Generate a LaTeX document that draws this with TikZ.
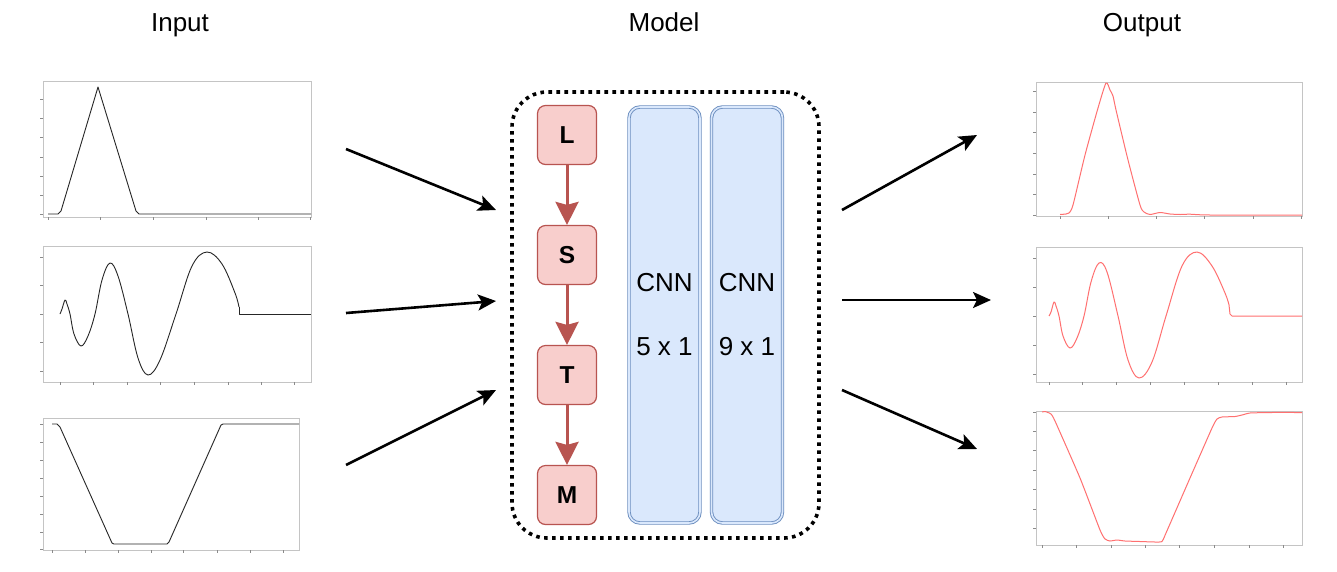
\documentclass[tikz,border=0pt]{standalone}
\usepackage{fontspec}
\setmainfont{Liberation Sans}
\usetikzlibrary{arrows.meta}
\definecolor{redfill}{HTML}{F8CECC}
\definecolor{redline}{HTML}{B85450}
\definecolor{bluefill}{HTML}{DAE8FC}
\definecolor{blueline}{HTML}{6C8EBF}
\definecolor{outred}{HTML}{FF7070}
\definecolor{framegray}{HTML}{C4C4C4}
\definecolor{tickgray}{HTML}{8A8A8A}
\begin{document}
\begin{tikzpicture}[x=1pt,y=-1pt,
  title/.style={font=\fontsize{26}{30}\selectfont, anchor=base, inner sep=0},
  letterbox/.style={draw=redline, fill=redfill, line width=1.2pt, rounded corners=8pt,
    minimum width=59pt, minimum height=59pt, inner sep=0,
    font=\fontsize{24.5}{28}\selectfont\bfseries},
  cnnbox/.style={draw=blueline, double=bluefill, double distance=1.6pt, line width=0.9pt,
    fill=bluefill, rounded corners=11pt, minimum width=71pt, minimum height=416pt, inner sep=0},
  cnntext/.style={font=\fontsize{26}{30}\selectfont, anchor=base, inner sep=0},
  modelbox/.style={draw=black, line width=3.6pt, dash pattern=on 3.6pt off 4.4pt,
    rounded corners=35pt, minimum width=307pt, minimum height=446pt, inner sep=0},
  lstmarrow/.style={draw=redline, line width=3pt,
    -{Stealth[length=23pt,width=23pt,inset=3pt,fill=redline]}},
  flowarrow/.style={draw=black, line width=2.6pt,
    -{Stealth[length=18pt,width=16pt,inset=4pt]}},
  plotframe/.style={draw=framegray, line width=1.1pt, anchor=north west, inner sep=0},
  tickmark/.style={draw=tickgray, line width=0.6pt},
  incurve/.style={draw=black!85, line width=0.9pt, line join=round},
  outcurve/.style={draw=outred, line width=1pt, line join=round}
]
\useasboundingbox[fill=white] (0,0) rectangle (1337,571);

% titles
\node[title] (tin) at (180,31.5) {Input};
\node[title] (tmodel) at (664,31.5) {Model};
\node[title] (tout) at (1142,31.5) {Output};

% ---------------- input plots ----------------
\node[plotframe, minimum width=268pt, minimum height=136pt] (in1) at (43,81) {};
\foreach \x in {48,100,153,206,258,310} \draw[tickmark] (\x,217) -- (\x,220);
\foreach \y in {99,118,137,157,176,195,214} \draw[tickmark] (43,\y) -- (40,\y);
\draw[incurve] (48,214) -- (58,214) -- (61,211) -- (98,87) -- (136,211) -- (139,214) -- (311,214);

\node[plotframe, minimum width=268pt, minimum height=136pt] (in2) at (43,246) {};
\foreach \x in {60,93,127,160,194,228,261,294} \draw[tickmark] (\x,382) -- (\x,385);
\foreach \y in {257,285,314,342,371} \draw[tickmark] (43,\y) -- (40,\y);
\draw[incurve] plot[smooth, tension=0.6] coordinates {(60,314) (62,309) (65,300) (67,304) (70,314) (74,334) (81,346) (88,336) (95,314) (102,280) (110,263) (118,276) (128,314) (138,358) (148,375) (160,360) (176,314) (192,266) (207,252) (222,264) (235,293) (239,307)};
\draw[incurve] (239,307) -- (239,314) -- (311,314);

\node[plotframe, minimum width=256pt, minimum height=132pt] (in3) at (43,418) {};
\foreach \x in {52,85,118,151,183,217,250,283} \draw[tickmark] (\x,550) -- (\x,553);
\foreach \y in {424,442,460,478,496,514,532,549} \draw[tickmark] (43,\y) -- (40,\y);
\draw[incurve] (52,424) -- (57,424) -- (60,427) -- (112,543) -- (114,544) -- (167,544) -- (169,542) -- (221,425) -- (223,424) -- (299,424);

% ---------------- output plots ----------------
\node[plotframe, minimum width=266pt, minimum height=134pt] (out1) at (1036,82) {};
\foreach \x in {1060,1108,1156,1204,1253,1301} \draw[tickmark] (\x,216) -- (\x,219);
\foreach \y in {91,112,132,153,174,194,215} \draw[tickmark] (1036,\y) -- (1033,\y);
\draw[outcurve] plot[smooth, tension=0.4] coordinates {(1060,214.5) (1066,214) (1069,213) (1073,205) (1085,155) (1098,108) (1106,83) (1110,90) (1113,96) (1116,110) (1128,160) (1140,205) (1144,212) (1150,214.5) (1160,212.5) (1170,214) (1180,214.5) (1190,214.2) (1210,215) (1302,215)};

\node[plotframe, minimum width=266pt, minimum height=135pt] (out2) at (1036,247) {};
\foreach \x in {1049,1082,1116,1150,1184,1218,1252,1286} \draw[tickmark] (\x,382) -- (\x,385);
\foreach \y in {258,287,316,345,374} \draw[tickmark] (1036,\y) -- (1033,\y);
\draw[outcurve] plot[smooth, tension=0.6] coordinates {(1049,316) (1051,312) (1054,302) (1056,306) (1059,316) (1063,336) (1070,348) (1077,338) (1084,316) (1091,282) (1099,263) (1107,272) (1118,316) (1128,360) (1139,378) (1152,362) (1166,316) (1182,266) (1197,252) (1212,266) (1225,293) (1229,305)};
\draw[outcurve] (1229,305) -- (1230,314) -- (1232,316) -- (1302,316);

\node[plotframe, minimum width=266pt, minimum height=134pt] (out3) at (1036,411) {};
\foreach \x in {1042,1076,1111,1145,1179,1214,1249,1283} \draw[tickmark] (\x,545) -- (\x,548);
\foreach \y in {412,431,450,470,489,509,528} \draw[tickmark] (1036,\y) -- (1033,\y);
\draw[outcurve] plot[smooth, tension=0.3] coordinates {(1042,412) (1045,411.5) (1048,412.5) (1051,414) (1055,421) (1080,478) (1100,530) (1105,539) (1110,541) (1117,540) (1125,541) (1140,541.5) (1155,542) (1162,541.5) (1166,533) (1190,478) (1212,428) (1217,419) (1222,417) (1235,416.5) (1242,415) (1250,413) (1270,412.5) (1302,412.5)};

% ---------------- model ----------------
\node[modelbox] (model) at (665.5,315) {};
\node[letterbox] (L) at (567,135) {L};
\node[letterbox] (S) at (567,255) {S};
\node[letterbox] (T) at (567,375) {T};
\node[letterbox] (M) at (567,495) {M};
\draw[lstmarrow] (L.south) -- (S.north);
\draw[lstmarrow] (S.south) -- (T.north);
\draw[lstmarrow] (T.south) -- (M.north);

\node[cnnbox] (cnn1) at (664.5,315) {};
\node[cnnbox] (cnn2) at (747,315) {};
\node[cnntext] at (664.5,291.5) {CNN};
\node[cnntext] at (664.5,355) {5 x 1};
\node[cnntext] at (747,291.5) {CNN};
\node[cnntext] at (747,355) {9 x 1};

% ---------------- flow arrows ----------------
\coordinate (a1s) at (346,149); \coordinate (a1e) at (496,210);
\coordinate (a2s) at (346,313); \coordinate (a2e) at (496,301);
\coordinate (a3s) at (346,465); \coordinate (a3e) at (496,390);
\coordinate (b1s) at (842,210); \coordinate (b1e) at (977,135);
\coordinate (b2s) at (842,300); \coordinate (b2e) at (991,300);
\coordinate (b3s) at (842,390); \coordinate (b3e) at (977,449);
\draw[flowarrow] (a1s) -- (a1e);
\draw[flowarrow] (a2s) -- (a2e);
\draw[flowarrow] (a3s) -- (a3e);
\draw[flowarrow] (b1s) -- (b1e);
\draw[flowarrow] (b2s) -- (b2e);
\draw[flowarrow] (b3s) -- (b3e);
\end{tikzpicture}
\end{document}
